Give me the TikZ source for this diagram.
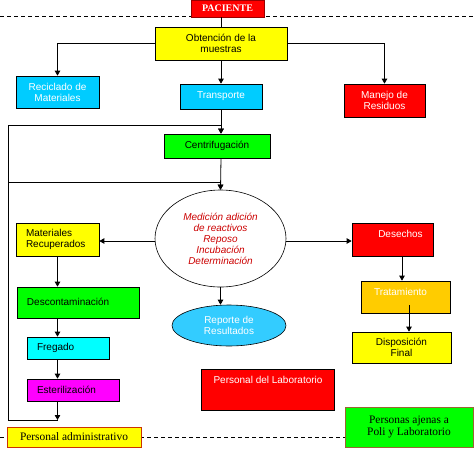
\documentclass[tikz,border=0pt]{standalone}
\usepackage{fontspec}
\setmainfont{Liberation Sans}
\newfontfamily\seriffam{Liberation Serif}
\usetikzlibrary{arrows.meta,shapes.geometric}
\definecolor{cyanA}{HTML}{00CCFF}
\definecolor{cyanB}{HTML}{33CCFF}
\definecolor{cyanC}{HTML}{00FFFF}
\definecolor{orangeA}{HTML}{FFCC00}
\definecolor{redA}{HTML}{FF0000}
\definecolor{greenA}{HTML}{00FF00}
\definecolor{magA}{HTML}{FF00FF}
\definecolor{yellowA}{HTML}{FFFF00}
\definecolor{darkred}{HTML}{990000}
\definecolor{brdorange}{HTML}{CC3300}
\definecolor{brdbrown}{HTML}{996633}
\definecolor{txtred}{HTML}{CC0000}
\begin{document}
\begin{tikzpicture}[x=1pt,y=-1pt,
  box/.style={draw=black,line width=0.7pt,inner sep=0pt,align=center,
    font=\fontsize{10}{11}\selectfont},
  lbox/.style={box,align=left,inner xsep=10pt},
  wtxt/.style={text=white,font=\fontsize{10}{11}\selectfont,inner sep=0pt},
  serifbox/.style={box,font=\seriffam\fontsize{11.4}{12}\selectfont},
  arr/.style={line width=0.8pt,-{Triangle[length=5pt,width=5.5pt]}},
  ln/.style={line width=0.8pt},
  dsh/.style={line width=0.7pt,dash pattern=on 4pt off 3pt}]
\useasboundingbox (0,0) rectangle (474,451);
\fill[white] (0,0) rectangle (474,451);
% dashed separators
\coordinate (dl1) at (0,16);
\coordinate (dr1) at (474,16);
\coordinate (dl2) at (0,437);
\coordinate (dr2) at (474,437);
\draw[dsh] (dl1) -- (dr1);
\draw[dsh] (dl2) -- (dr2);
% boxes
\node[box,draw=darkred,fill=redA,text=white,minimum width=73pt,minimum height=17pt,
  font=\seriffam\bfseries\fontsize{10}{11}\selectfont] (pac) at (227.5,8.5) {PACIENTE};
\node[box,fill=yellowA,minimum width=132pt,minimum height=33pt] (obt) at (221,43.5) {Obtención de la\\muestras};
\node[box,fill=cyanA,text=white,minimum width=83pt,minimum height=32pt] (rec) at (57.5,92) {Reciclado de\\Materiales};
\node[box,fill=cyanA,text=white,minimum width=82pt,minimum height=25pt] (tr) at (221,96.5) {Transporte};
\node[box,fill=redA,text=white,minimum width=81pt,minimum height=33pt] (man) at (384.5,100.5) {Manejo de\\Residuos};
\node[box,fill=greenA,minimum width=106pt,minimum height=24pt] (cent) at (217,146) {Centrifugación};
\node[ellipse,draw=black,line width=0.6pt,fill=white,minimum width=131pt,minimum height=97pt,inner sep=0pt,
  align=center,text=txtred,font=\itshape\fontsize{10}{11}\selectfont] (ell) at (220.5,238.5)
  {Medición adición\\de reactivos\\Reposo\\Incubación\\Determinación};
\node[lbox,fill=yellowA,text width=63pt,minimum height=33pt] (mat) at (57.5,239.5) {Materiales\\Recuperados};
\node[box,fill=redA,minimum width=81pt,minimum height=33pt] (des) at (392.5,239.5) {};
\node[wtxt] (destxt) at (400.5,234) {Desechos};
\node[lbox,fill=greenA,text width=102pt,minimum height=31pt] (desc) at (78,302.5) {Descontaminación\vphantom{y}\\[-3pt]};
\node[box,fill=orangeA,minimum width=89pt,minimum height=32pt] (trat) at (405.5,297) {};
\node[wtxt] (trattxt) at (400.5,292) {Tratamiento};
\node[ellipse,draw=black,line width=0.6pt,fill=cyanB,text=white,minimum width=114pt,minimum height=41pt,
  inner sep=0pt,align=center,font=\fontsize{10}{11}\selectfont] (rep) at (229,325.5) {Reporte de\\Resultados};
\node[lbox,fill=cyanC,text width=62pt,minimum height=22pt] (freg) at (68,348) {Fregado};
\node[box,fill=yellowA,minimum width=99pt,minimum height=31pt] (disp) at (401.5,347.5) {Disposición\\Final};
\node[lbox,fill=magA,text width=72pt,minimum height=22pt] (est) at (73,390) {Esterilización};
\node[box,fill=redA,minimum width=133pt,minimum height=41pt] (lab) at (267.5,389.5) {};
\node[wtxt] (labtxt) at (268,380) {Personal del Laboratorio};
\node[serifbox,draw=brdbrown,fill=greenA,minimum width=128pt,minimum height=40pt] (ajen) at (409,427)
  {Personas ajenas a\\Poli y Laboratorio};
\node[serifbox,draw=brdorange,fill=yellowA,minimum width=134pt,minimum height=20pt] (adm) at (74,437)
  {Personal administrativo};
% connectors top
\draw[ln] (pac.south -| obt.north) -- (obt.north);
\draw[arr] (obt.west) -| (rec.north);
\draw[arr] (obt.east) -| (man.north);
\draw[arr] (obt.south) -- (tr.north);
\draw[arr] (tr.south) -- (tr.south |- cent.north);
\draw[arr] (tr.south |- cent.south) -- (ell.north);
% feedback loop
\coordinate (lb) at (8,420);
\coordinate (lt1) at (8,125);
\coordinate (lt2) at (8,182);
\draw[ln] (lb -| mat.south) -- (lb) -- (lt1);
\draw[arr] (lt1) -- (lt1 -| tr.south) -- (tr.south |- cent.north);
\draw[arr] (lt2) -- (lt2 -| ell.north) -- (ell.north);
% ellipse outputs
\draw[arr] ([yshift=-2.5]ell.west) -- ([yshift=-2.5]ell.west -| mat.east);
\draw[arr] ([yshift=-2.5]ell.east) -- ([yshift=-2.5]ell.east -| des.west);
\draw[arr] (ell.south) -- (ell.south |- rep.north);
% left column
\draw[arr] (mat.south) -- (mat.south |- desc.north);
\draw[arr] (mat.south |- desc.south) -- (mat.south |- freg.north);
\draw[arr] (mat.south |- freg.south) -- (mat.south |- est.north);
\draw[arr] (mat.south |- est.south) -- (mat.south |- lb);
% right column
\draw[arr] ([xshift=9.5]des.south) -- ([xshift=9.5]des.south |- trat.north);
\draw[arr] ([xshift=3.5,yshift=8]trat.south) -- ([xshift=3.5]trat.south |- disp.north);
\end{tikzpicture}
\end{document}
